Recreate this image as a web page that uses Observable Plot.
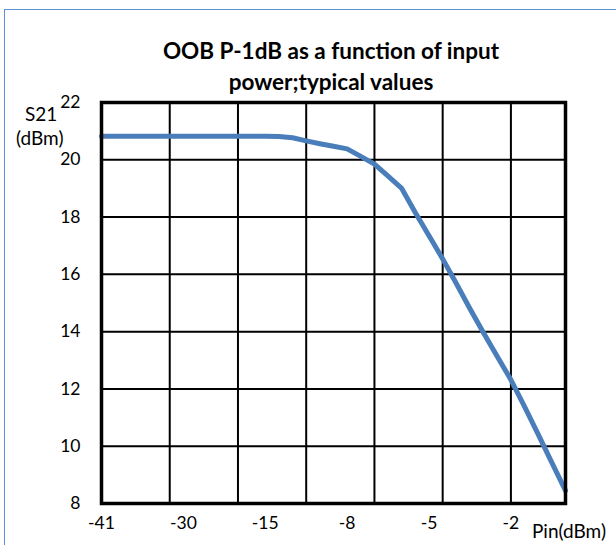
<!DOCTYPE html>
<html><head><meta charset="utf-8">
<script src="https://cdn.jsdelivr.net/npm/d3@7"></script>
<script src="https://cdn.jsdelivr.net/npm/@observablehq/plot@0.6"></script>
<style>
html,body{margin:0;padding:0;background:#fff;overflow:hidden;}
#wrap{position:relative;width:616px;height:545px;overflow:hidden;font-family:Lato,"Open Sans",sans-serif;}
#border{position:absolute;left:4px;top:9px;width:800px;height:800px;border:1.5px solid #5b8fd6;box-sizing:border-box;}
.t{position:absolute;white-space:nowrap;color:#000;line-height:1.2;}
.title{font-weight:bold;font-size:22.5px;left:0;width:662px;text-align:center;}
.lab{font-size:19px;}
#chart{position:absolute;left:0;top:0;}
</style></head>
<body>
<div id="wrap">
  <div id="border"></div>
  <div id="chart"></div>
  <div class="t title" style="top:37px">OOB P-1dB as a function of input</div>
  <div class="t title" style="top:68px">power;typical values</div>
  <div class="t lab" style="left:25px;top:103px">S21</div>
  <div class="t lab" style="left:16px;top:127px">(dBm)</div>
  <div class="t lab" style="left:532px;top:520px">Pin(dBm)</div>
</div>
<script>
// Input power categories (category axis, evenly spaced)
const pin = [-41,-39,-37,-35,-33,-32,-30,-28,-25,-22,-20,-17,-15,-14,-13,-12,-10,-9,-8,-7.5,-7,-6.5,-6,-5.5,-5,-4.5,-4,-3.5,-3,-2.5,-2,-1.5,-1,-0.5,0];
// S21 output (dBm)
const s21 = [20.82,20.82,20.82,20.82,20.82,20.82,20.82,20.82,20.82,20.82,20.82,20.82,20.82,
             20.81,20.77,20.66,20.56,20.47,20.38,20.12,19.85,19.43,19.0,18.15,17.35,16.54,
             15.68,14.8,13.95,13.13,12.32,11.38,10.41,9.43,8.45];
const xTickLabels = [-41,-30,-15,-8,-5,-2];
const yTicks = [8,10,12,14,16,18,20,22];

const data = pin.map((p,i)=>({pin:p, s21:s21[i]}));
const xGrid = pin.filter((p,i)=> i % 5 === 0);
const font = "Lato, 'Open Sans', sans-serif";

const chart = Plot.plot({
  width: 616, height: 545,
  marginLeft: 101, marginRight: 51, marginTop: 102, marginBottom: 42,
  style: {background: "transparent", fontFamily: font},
  x: {type: "point", domain: pin, padding: 0, round: false},
  y: {domain: [8, 22]},
  marks: [
    Plot.ruleY(yTicks, {stroke: "#000", strokeWidth: 2}),
    Plot.ruleX(xGrid, {stroke: "#000", strokeWidth: 2}),
    Plot.line(data, {x: "pin", y: "s21", stroke: "#4a7ebb", strokeWidth: 5, strokeLinejoin: "round", strokeLinecap: "round"}),
    Plot.frame({stroke: "#000", strokeWidth: 3.5}),
    Plot.axisY(yTicks, {tickSize: 0, tickPadding: 21, fontSize: 17.5, fontFamily: font, fill: "#000", label: null}),
    Plot.axisX(xTickLabels, {tickSize: 0, tickPadding: 13, fontSize: 17.5, fontFamily: font, fill: "#000", label: null})
  ]
});
document.getElementById("chart").appendChild(chart);
</script>
</body></html>
